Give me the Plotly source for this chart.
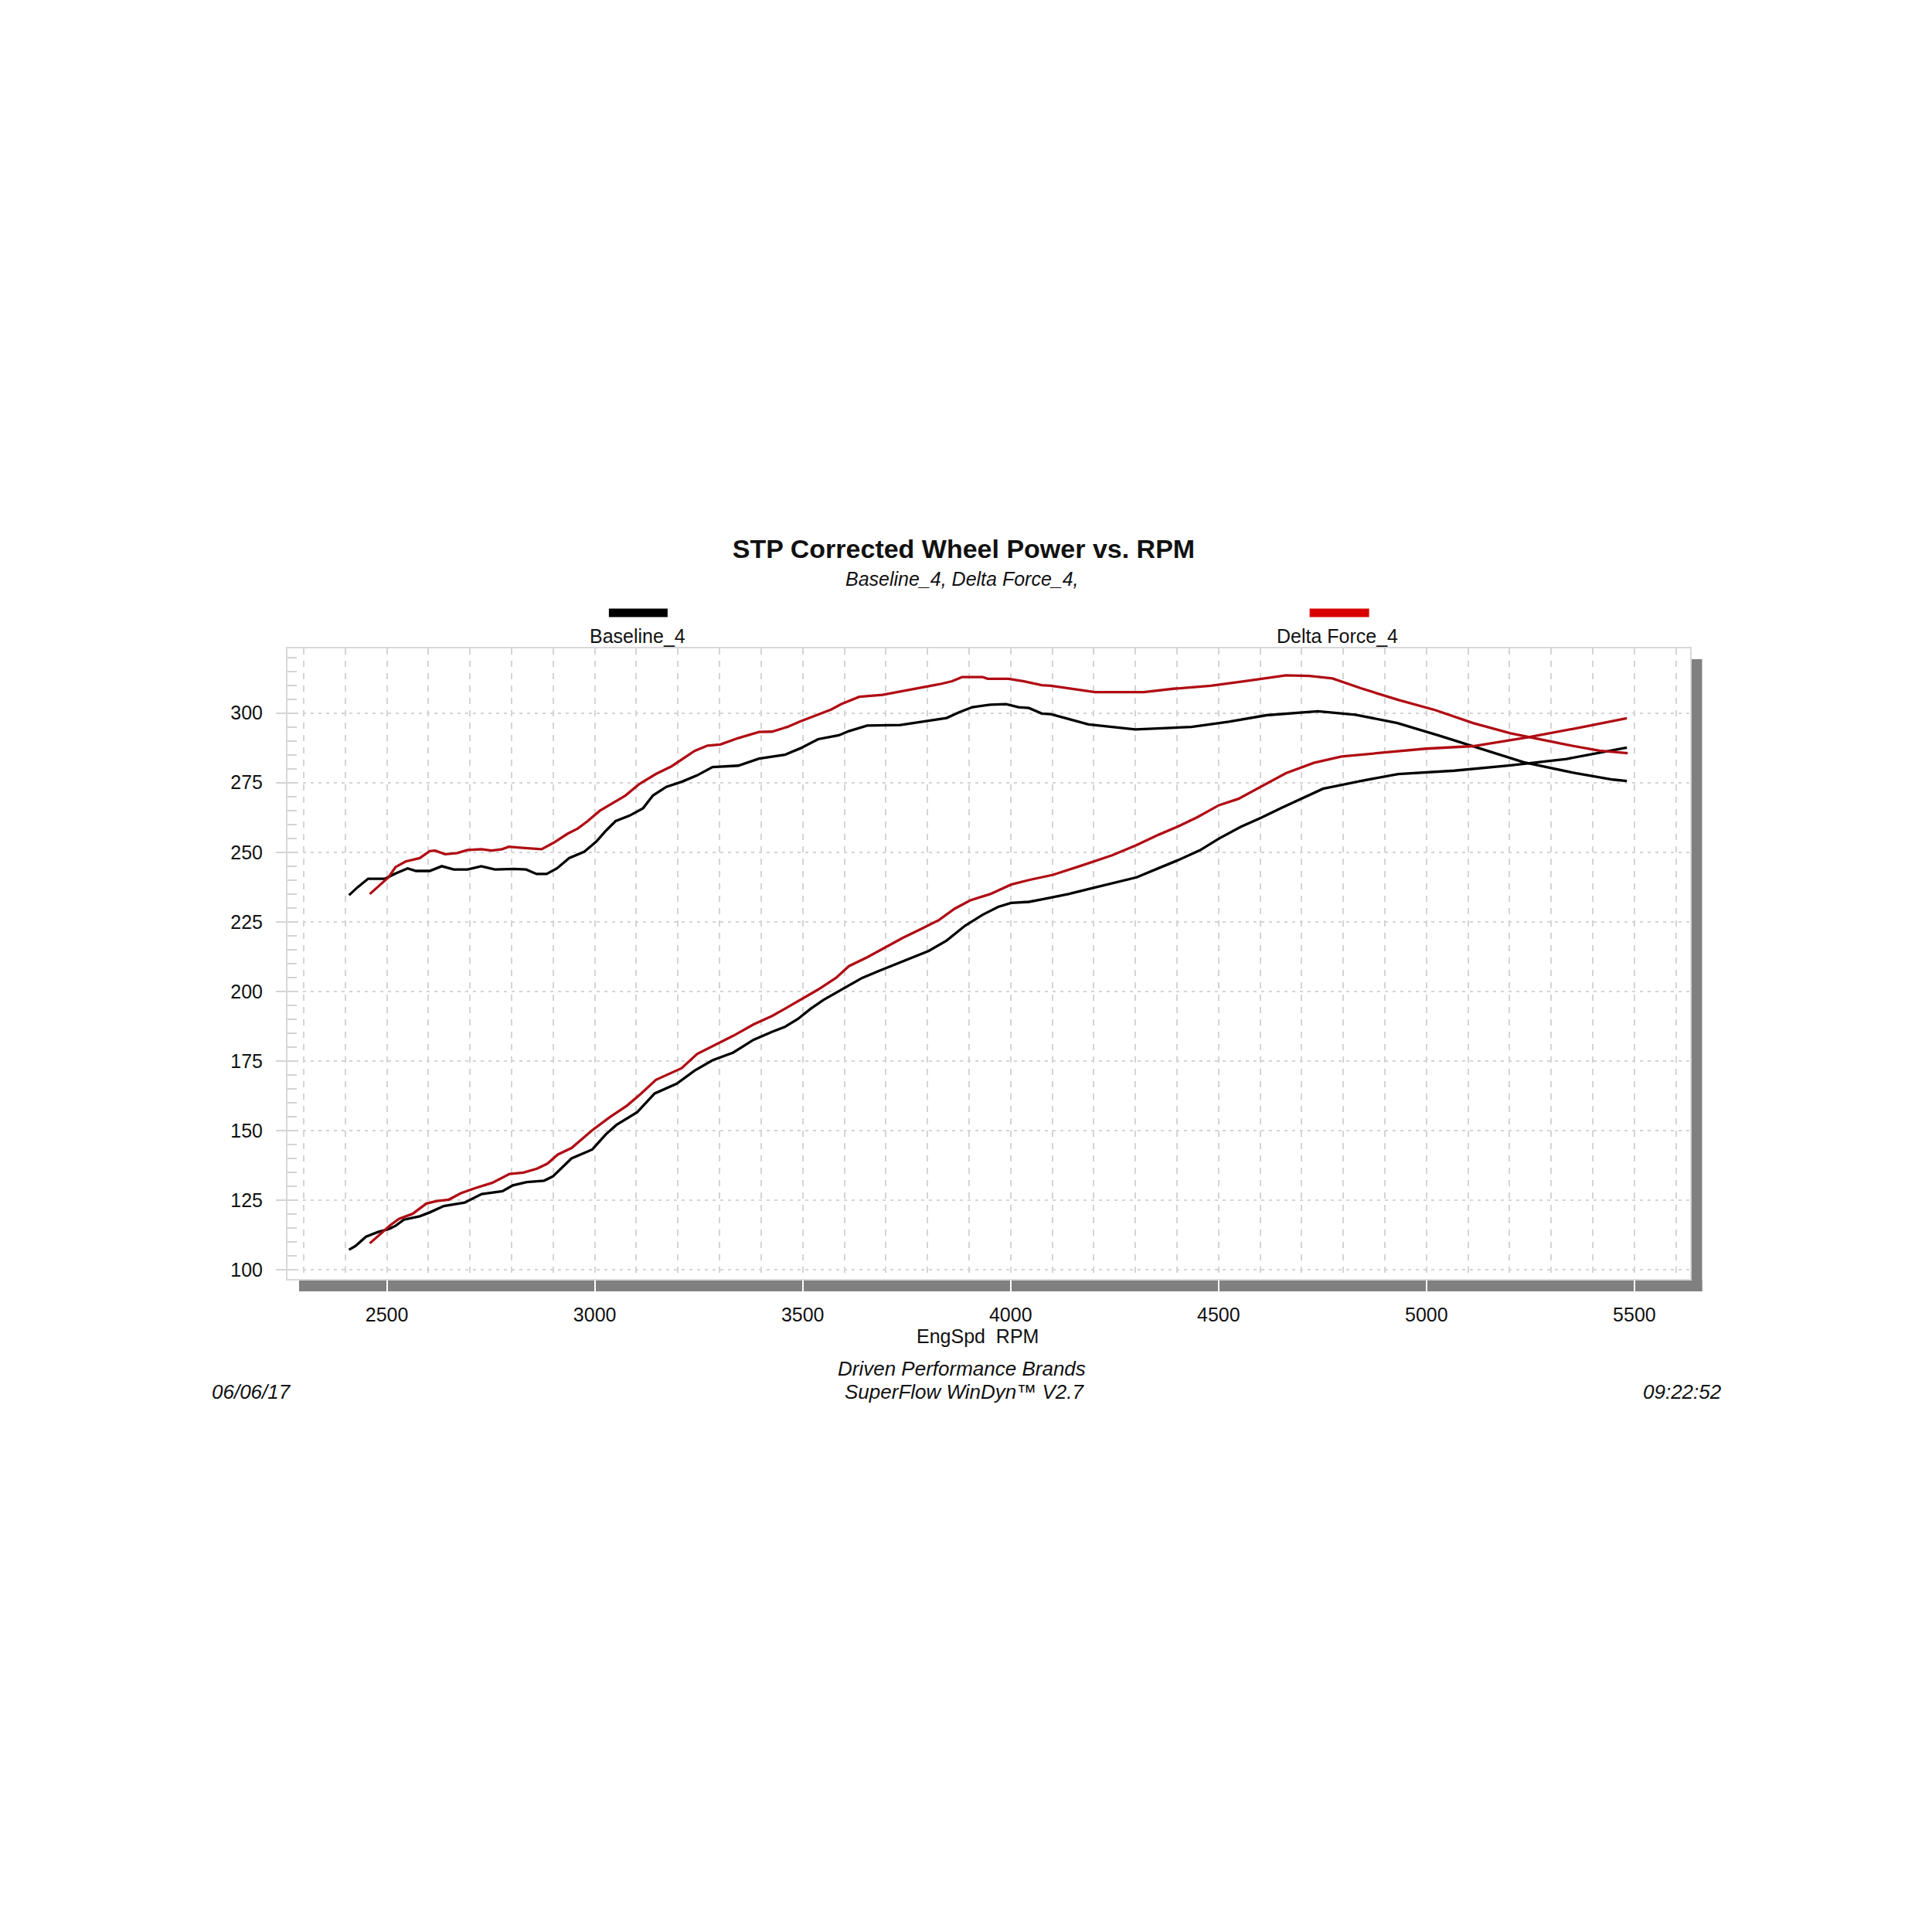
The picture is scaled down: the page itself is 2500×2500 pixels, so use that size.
import plotly.graph_objects as go

# ---------------- data ----------------
base_hi_rpm = [2409, 2430, 2455, 2496, 2521, 2550, 2570, 2603, 2632, 2661, 2694, 2727, 2760, 2806, 2835,
               2860, 2884, 2909, 2938, 2975, 3004, 3025, 3050, 3083, 3116, 3140, 3172, 3209, 3246, 3283,
               3345, 3395, 3457, 3494, 3537, 3587, 3611, 3655, 3735, 3784, 3846, 3877, 3908, 3951, 3989,
               4019, 4044, 4075, 4097, 4187, 4300, 4435, 4525, 4615, 4739, 4829, 4930, 5032, 5122, 5234,
               5358, 5448, 5482]
base_hi_val = [234.6, 237.5, 240.5, 240.5, 242.4, 244.2, 243.3, 243.3, 245.0, 243.8, 243.8, 245.0, 243.8, 244.0, 243.8,
               242.2, 242.2, 244.2, 247.9, 250.2, 253.9, 257.5, 261.2, 263.1, 265.8, 270.4, 273.5, 275.3, 277.6, 280.6,
               281.1, 283.6, 285.0, 287.3, 290.6, 292.0, 293.5, 295.5, 295.7, 296.8, 298.2, 300.3, 302.1, 303.0, 303.2,
               302.1, 301.8, 299.8, 299.6, 295.9, 294.1, 295.0, 296.9, 299.2, 300.6, 299.4, 296.4, 291.8, 287.6, 282.3,
               278.4, 276.1, 275.6]

delta_hi_rpm = [2459, 2479, 2504, 2521, 2545, 2579, 2603, 2616, 2640, 2669, 2694, 2727, 2752, 2777, 2793,
                2826, 2872, 2901, 2934, 2959, 2983, 3012, 3041, 3074, 3107, 3147, 3185, 3240, 3271, 3302,
                3345, 3395, 3426, 3463, 3494, 3531, 3568, 3593, 3636, 3692, 3735, 3778, 3828, 3859, 3883,
                3933, 3945, 3995, 4032, 4075, 4097, 4203, 4320, 4391, 4481, 4571, 4662, 4718, 4774, 4842,
                4932, 5022, 5112, 5202, 5259, 5337, 5416, 5484]
delta_hi_val = [235.0, 237.8, 241.0, 244.7, 246.7, 247.9, 250.4, 250.6, 249.3, 249.7, 250.8, 251.1, 250.6, 251.1, 252.0,
                251.6, 251.1, 253.4, 256.6, 258.5, 261.2, 264.9, 267.6, 270.4, 274.5, 278.1, 280.9, 286.4, 288.3, 288.7,
                291.0, 293.2, 293.3, 295.0, 297.0, 299.1, 301.2, 303.2, 305.8, 306.5, 307.7, 309.1, 310.3, 311.4, 312.9,
                312.9, 312.3, 312.3, 311.4, 310.0, 309.8, 307.5, 307.5, 308.7, 309.8, 311.6, 313.5, 313.3, 312.4, 308.9,
                304.7, 301.0, 296.4, 292.7, 290.9, 288.6, 286.5, 285.6]

base_lo_rpm = [2409, 2425, 2450, 2479, 2504, 2521, 2541, 2579, 2603, 2637, 2687, 2728, 2778, 2803, 2836,
               2878, 2899, 2944, 2994, 3027, 3052, 3102, 3144, 3197, 3240, 3283, 3333, 3382, 3426, 3457,
               3488, 3519, 3550, 3593, 3618, 3643, 3685, 3735, 3772, 3803, 3846, 3890, 3933, 3970, 4001,
               4044, 4077, 4139, 4201, 4263, 4303, 4356, 4400, 4455, 4501, 4553, 4601, 4652, 4751, 4842,
               4932, 5067, 5202, 5337, 5482]
base_lo_val = [107.3, 108.7, 112.0, 113.7, 114.7, 115.9, 118.1, 119.3, 120.7, 123.0, 124.2, 127.3, 128.3, 130.4, 131.6,
               132.1, 133.6, 140.1, 143.3, 148.8, 152.1, 156.7, 163.4, 166.9, 171.6, 175.3, 178.1, 182.7, 185.5, 187.3,
               190.1, 193.8, 197.0, 200.7, 202.6, 204.9, 207.5, 210.5, 212.8, 214.6, 218.3, 223.6, 227.6, 230.4, 231.8,
               232.2, 233.1, 235.0, 237.3, 239.6, 241.0, 244.3, 247.0, 250.7, 254.9, 259.1, 262.3, 266.0, 272.8, 275.6,
               278.1, 279.3, 281.2, 283.5, 287.6]

delta_lo_rpm = [2459, 2484, 2508, 2529, 2562, 2595, 2620, 2649, 2678, 2712, 2753, 2795, 2828, 2861, 2886,
                2911, 2944, 2994, 3036, 3077, 3110, 3147, 3209, 3246, 3290, 3333, 3382, 3426, 3457, 3494,
                3537, 3580, 3611, 3655, 3692, 3741, 3785, 3828, 3865, 3902, 3951, 4001, 4046, 4102, 4170,
                4244, 4303, 4356, 4400, 4448, 4501, 4548, 4662, 4729, 4796, 4887, 4999, 5112, 5246, 5370,
                5482]
delta_lo_val = [109.6, 112.8, 116.1, 118.4, 120.2, 123.9, 124.8, 125.3, 127.6, 129.4, 131.3, 134.5, 135.0, 136.4, 138.2,
                141.5, 143.8, 150.2, 154.9, 159.0, 163.2, 168.3, 172.5, 177.6, 180.8, 184.1, 188.2, 191.2, 193.8, 197.0,
                200.7, 204.9, 209.1, 212.3, 215.3, 219.3, 222.5, 225.7, 229.7, 232.7, 235.0, 238.4, 240.1, 241.9, 245.2,
                248.9, 252.6, 256.3, 259.1, 262.5, 266.9, 269.2, 278.4, 282.1, 284.4, 285.6, 287.2, 288.1, 291.3, 294.8,
                298.1]

x_ticks = [2500, 3000, 3500, 4000, 4500, 5000, 5500]
y_ticks = [100, 125, 150, 175, 200, 225, 250, 275, 300]

series_names = ["Baseline_4", "Delta Force_4"]
title_text = "STP Corrected Wheel Power vs. RPM"
subtitle_text = "Baseline_4, Delta Force_4,"

# ---------------- styling ----------------
W = H = 2500
OFF = 8  # page body margin added by the browser
PL, PR, PT, PB = 372 - OFF, 2187.5 - OFF, 839 - OFF, 1655 - OFF
FONT = "Liberation Sans, Arial, sans-serif"
BLACK = "#000000"
RED = "#b00c14"
GRID = "#d4d4d4"


def px(X):
    return (X - OFF - PL) / (PR - PL)


def py(Y):
    return (PB - (Y - OFF)) / (PB - PT)


fig = go.Figure()
for xs, ys, col, nm in [
    (base_hi_rpm, base_hi_val, BLACK, series_names[0]),
    (base_lo_rpm, base_lo_val, BLACK, series_names[0]),
    (delta_hi_rpm, delta_hi_val, RED, series_names[1]),
    (delta_lo_rpm, delta_lo_val, RED, series_names[1]),
]:
    fig.add_trace(go.Scatter(x=xs, y=ys, mode="lines", name=nm, showlegend=False,
                             line=dict(color=col, width=3.3)))

fig.update_layout(
    width=W, height=H,
    margin=dict(l=PL, r=W - PR, t=PT, b=H - PB, pad=0),
    paper_bgcolor="white", plot_bgcolor="white",
    font=dict(family=FONT, size=25, color="#111111"),
    title=dict(text="<b>" + title_text + "</b>", x=(1247 - OFF) / W, y=1 - (710 - OFF) / H,
               xanchor="center", yanchor="middle", xref="container", yref="container",
               font=dict(family=FONT, size=34, color="#111111")),
)

fig.update_xaxes(
    range=[2261, 5634], tickvals=x_ticks, ticktext=[str(v) for v in x_ticks],
    showgrid=True, gridcolor=GRID, griddash="8px,8px", gridwidth=1.5,
    ticks="outside", ticklen=15, tickwidth=2, tickcolor="white",
    ticklabelstandoff=8,
    minor=dict(dtick=100, tick0=2300, showgrid=True, gridcolor=GRID, griddash="8px,8px", gridwidth=1.5),
    showline=True, mirror=True, linecolor="#d8d8d8", linewidth=2, zeroline=False,
    tickfont=dict(size=25, color="#111111"),
)
fig.update_yaxes(
    range=[96.8, 323.2], tickvals=y_ticks, ticktext=[str(v) for v in y_ticks],
    showgrid=True, gridcolor=GRID, griddash="4px,6px", gridwidth=1.5,
    ticks="outside", ticklen=13, tickwidth=1.5, tickcolor=GRID,
    ticklabelstandoff=12,
    minor=dict(dtick=5, tick0=100, ticks="inside", ticklen=12, tickcolor=GRID, tickwidth=1.5, showgrid=False),
    showline=True, mirror=True, linecolor="#d8d8d8", linewidth=2, zeroline=False,
    tickfont=dict(size=25, color="#111111"),
)

# drop shadow of the plot frame
SH = "#808080"
fig.add_shape(type="rect", xref="paper", yref="paper", layer="below",
              x0=px(387), x1=px(2203), y0=py(1671), y1=py(1657),
              fillcolor=SH, line=dict(width=0))
fig.add_shape(type="rect", xref="paper", yref="paper", layer="below",
              x0=px(2189), x1=px(2203), y0=py(1671), y1=py(853),
              fillcolor=SH, line=dict(width=0))

# legend swatches
fig.add_shape(type="line", xref="paper", yref="paper", x0=px(788), x1=px(864), y0=py(793), y1=py(793),
              line=dict(color="#000000", width=11))
fig.add_shape(type="line", xref="paper", yref="paper", x0=px(1695), x1=px(1772), y0=py(793), y1=py(793),
              line=dict(color="#d90000", width=11))


def note(text, X, Y, size=25, italic=False, xanchor="center"):
    t = "<i>" + text + "</i>" if italic else text
    fig.add_annotation(text=t, x=px(X), y=py(Y), xref="paper", yref="paper", showarrow=False,
                       xanchor=xanchor, yanchor="middle", font=dict(family=FONT, size=size, color="#111111"))


note(subtitle_text, 1245, 749, size=25, italic=True)
note(series_names[0], 825, 823)
note(series_names[1], 1731, 823)
note("EngSpd\u00a0\u00a0RPM", 1265, 1729)
note("Driven Performance Brands", 1245, 1771, size=26, italic=True)
note("SuperFlow WinDyn\u2122 V2.7", 1249, 1801, size=26, italic=True)
note("06/06/17", 325, 1801, size=26, italic=True)
note("09:22:52", 2177, 1801, size=26, italic=True)

fig.write_html("out.html")
